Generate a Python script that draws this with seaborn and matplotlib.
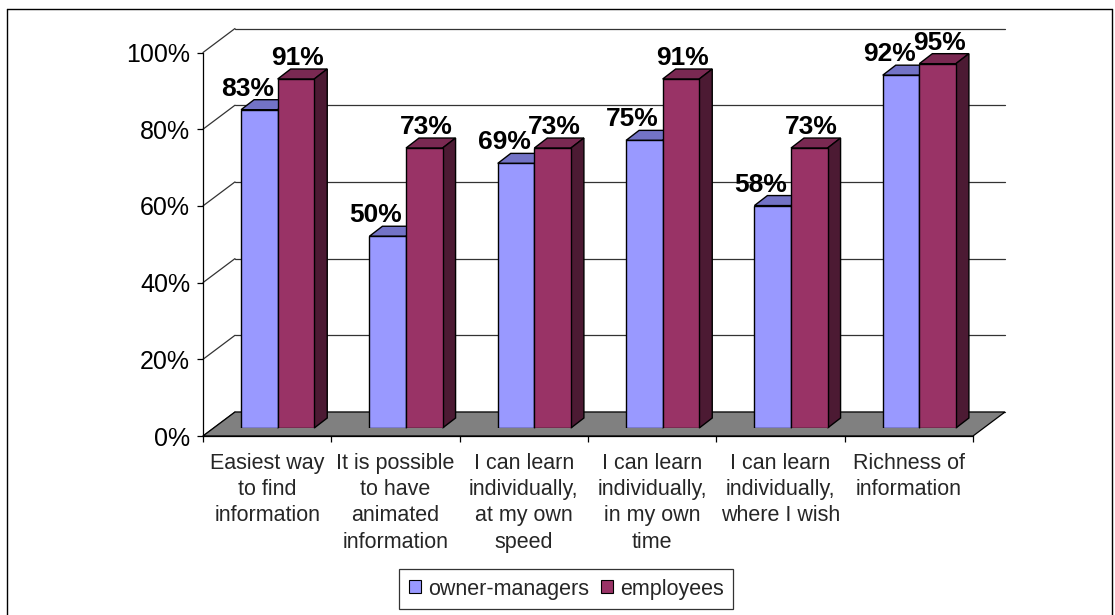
import numpy as np
import pandas as pd
import matplotlib
matplotlib.use("Agg")
import matplotlib.pyplot as plt
from matplotlib.patches import Polygon, Patch
from matplotlib.lines import Line2D
import seaborn as sns

# ---- data ----
categories = [
    "Easiest way\nto find\ninformation",
    "It is possible\nto have\nanimated\ninformation",
    "I can learn\nindividually,\nat my own\nspeed",
    "I can learn\nindividually,\nin my own\ntime",
    "I can learn\nindividually,\nwhere I wish",
    "Richness of\ninformation",
]
series = ["owner-managers", "employees"]
owner_managers = [83, 50, 69, 75, 58, 92]
employees = [91, 73, 73, 91, 73, 95]
y_ticks = [0, 20, 40, 60, 80, 100]

df = pd.DataFrame({
    "category": categories * 2,
    "group": [series[0]] * len(categories) + [series[1]] * len(categories),
    "value": owner_managers + employees,
})

# ---- style ----
FRONT = ["#9999FF", "#993366"]
TOP = ["#7373C6", "#7A2952"]
SIDE = ["#4D4D80", "#4C1A33"]
FLOOR = "#808080"

sns.set_theme(style="white")
plt.rcParams["font.family"] = ["Liberation Sans", "DejaVu Sans"]

W, H = 1115, 615
fig = plt.figure(figsize=(W / 100, H / 100), dpi=100)
fig.patch.set_facecolor("white")


def fx(px):
    return px / W


def fy(py):
    return 1 - py / H


# plot frame in pixels
X0, X1 = 203, 973          # front floor edge
Y0, Y100 = 436, 52.5       # 0% and 100% on the front axis
PX_X = (X1 - X0) / 6       # pixels per category
PX_Y = (Y0 - Y100) / 100   # pixels per percent

# depth of the floor / back wall, and placement of the bars inside it
DEPTH_PX = (32, 24)
BAR_SHIFT_PX = (10.5, 8)
BAR_DEPTH_PX = (13, 10)

DX, DY = DEPTH_PX[0] / PX_X, DEPTH_PX[1] / PX_Y
BDX, BDY = BAR_DEPTH_PX[0] / PX_X, BAR_DEPTH_PX[1] / PX_Y

rect = [fx(X0), fy(Y0), (X1 - X0) / W, (Y0 - Y100) / H]
ax = fig.add_axes(rect)
ax.set_xlim(-0.5, 5.5)
ax.set_ylim(0, 100)
ax.patch.set_alpha(0)

# back wall gridlines and their diagonals to the front axis
for v in y_ticks:
    ax.add_line(Line2D([-0.5 + DX, 5.5 + DX], [v + DY, v + DY], color="#333333",
                       lw=0.9, clip_on=False, zorder=0.2))
    ax.add_line(Line2D([-0.5, -0.5 + DX], [v, v + DY], color="#333333",
                       lw=0.9, clip_on=False, zorder=0.2))

# floor
ax.add_patch(Polygon([(-0.5, 0), (5.5, 0), (5.5 + DX, DY), (-0.5 + DX, DY)],
                     closed=True, facecolor=FLOOR, edgecolor="black", lw=0.9,
                     clip_on=False, zorder=0.5))

for s in ["top", "right"]:
    ax.spines[s].set_visible(False)
for s in ["left", "bottom"]:
    ax.spines[s].set_color("black")
    ax.spines[s].set_linewidth(0.9)
    ax.spines[s].set_zorder(0.6)

ax.set_yticks(y_ticks)
ax.set_yticklabels([f"{v}%" for v in y_ticks], fontsize=18)
ax.tick_params(axis="y", direction="out", length=4.3, width=0.9, pad=5,
               colors="black", left=True)
ax.set_xticks(np.arange(-0.5, 6, 1))
ax.set_xticklabels([""] * 7)
ax.set_xticks(np.arange(6), minor=True)
ax.set_xticklabels(categories, minor=True, fontsize=15.5, linespacing=1.33)
ax.tick_params(axis="x", which="major", direction="out", length=4.3, width=0.9,
               colors="black", bottom=True)
ax.tick_params(axis="x", which="minor", length=0, pad=12)
ax.set_xlabel("")
ax.set_ylabel("")
ax.grid(False)

# bars live on a plane set back into the depth of the floor
ax_bar = fig.add_axes([fx(X0 + BAR_SHIFT_PX[0]), fy(Y0 - BAR_SHIFT_PX[1]),
                       rect[2], rect[3]])
sns.barplot(data=df, x="category", y="value", hue="group", hue_order=series,
            palette=FRONT, saturation=1, width=0.57, edgecolor="black",
            linewidth=1.0, legend=False, ax=ax_bar)
ax_bar.set_xlim(-0.5, 5.5)
ax_bar.set_ylim(0, 100)
ax_bar.axis("off")
ax_bar.patch.set_alpha(0)

label_dx = [-12, 2]
for k, cont in enumerate(ax_bar.containers):
    for bar in cont:
        x0 = bar.get_x()
        w = bar.get_width()
        h = bar.get_height()
        x1 = x0 + w
        z = 2 + k
        bar.set_zorder(z)
        top = Polygon([(x0, h), (x1, h), (x1 + BDX, h + BDY), (x0 + BDX, h + BDY)],
                      closed=True, facecolor=TOP[k], edgecolor="black", lw=1.0,
                      zorder=z - 0.1, clip_on=False)
        side = Polygon([(x1, 0), (x1, h), (x1 + BDX, h + BDY), (x1 + BDX, BDY)],
                       closed=True, facecolor=SIDE[k], edgecolor="black", lw=1.0,
                       zorder=z - 0.1, clip_on=False)
        ax_bar.add_patch(top)
        ax_bar.add_patch(side)
        ax_bar.annotate(f"{h:.0f}%", xy=(x0 + w / 2, h),
                        xytext=(label_dx[k] * 0.72, 14 * 0.72),
                        textcoords="offset points", ha="center", va="baseline",
                        fontsize=19, fontweight="bold", color="black",
                        annotation_clip=False, zorder=10)

# legend
handles = [Patch(facecolor=c, edgecolor="black", lw=0.8, label=s)
           for c, s in zip(FRONT, series)]
leg = fig.legend(handles=handles, loc="center", bbox_to_anchor=(fx(566), fy(589)),
                 ncol=2, frameon=True, fancybox=False, fontsize=15.5,
                 handlelength=0.56, handleheight=0.56, handletextpad=0.33,
                 columnspacing=0.55, borderpad=0.45, borderaxespad=0)
leg.get_frame().set_edgecolor("black")
leg.get_frame().set_linewidth(0.9)

# chart border
for xs, ys in [([7, 7], [9, 615]), ([7, 1112], [9, 9]), ([1112, 1112], [9, 615])]:
    fig.add_artist(Line2D([fx(x) for x in xs], [fy(y) for y in ys],
                          color="black", lw=1.0))

fig.savefig("out.png", dpi=100)
